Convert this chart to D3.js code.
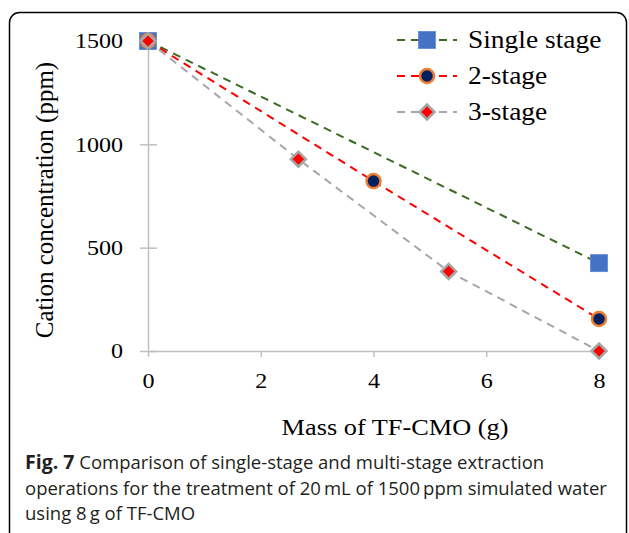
<!DOCTYPE html>
<html lang="en">
<head>
<meta charset="UTF-8" />
<title>Fig. 7 single vs multi-stage extraction</title>
<script src="https://d3js.org/d3.v7.min.js"></script>
<style>
  body { margin: 0; background: #fff; }
  svg { display: block; }
</style>
</head>
<body>
<svg width="629" height="533"></svg>
<script>
// data
const seriesNames = ["Single stage", "2-stage", "3-stage"];
const singleX = [0, 8];
const singleY = [1500, 425];
const twoX = [0, 4, 8];
const twoY = [1500, 822, 155];
const threeX = [0, 2.667, 5.333, 8];
const threeY = [1500, 928, 385, 0];
const xTicks = [0, 2, 4, 6, 8];
const yTicks = [0, 500, 1000, 1500];

const series = [
  { name: seriesNames[0], xs: singleX, ys: singleY, line: "#3a6b22", marker: "square" },
  { name: seriesNames[1], xs: twoX, ys: twoY, line: "#ff0000", marker: "circle" },
  { name: seriesNames[2], xs: threeX, ys: threeY, line: "#a6a6a6", marker: "diamond" }
];

const SERIF = '"Liberation Serif", "Times New Roman", serif';
const SANS = '"Open Sans", "Noto Sans", sans-serif';
const SX = 1.12; // the source figure is a bit stretched sideways

const svg = d3.select("svg");

// frame
svg.append("rect")
  .attr("x", 9.5).attr("y", 12.5)
  .attr("width", 617).attr("height", 600)
  .attr("rx", 10)
  .attr("fill", "none").attr("stroke", "#000").attr("stroke-width", 1.5);

const x = d3.scaleLinear().domain([0, 8]).range([148, 599]);
const y = d3.scaleLinear().domain([0, 1500]).range([351, 41]);

// y axis (cross ticks)
const gy = svg.append("g").attr("transform", `translate(${x(0)},0)`)
  .call(d3.axisLeft(y).tickValues(yTicks).tickFormat(d3.format("d"))
    .tickSize(8).tickPadding(17).tickSizeOuter(0));
gy.select(".domain").attr("stroke", "#bfbfbf").attr("stroke-width", 1.5);
gy.selectAll(".tick line").attr("stroke", "#bfbfbf").attr("stroke-width", 1.5).attr("x2", 9).attr("x1", -8);
gy.selectAll(".tick text").attr("x", -25 / SX);

// x axis
const gx = svg.append("g").attr("transform", `translate(0,${y(0)})`)
  .call(d3.axisBottom(x).tickValues(xTicks).tickFormat(d3.format("d"))
    .tickSize(6).tickPadding(16).tickSizeOuter(0));
gx.select(".domain").attr("stroke", "#bfbfbf").attr("stroke-width", 1.5);
gx.selectAll(".tick line").attr("stroke", "#bfbfbf").attr("stroke-width", 1.5);

svg.selectAll(".tick text")
  .style("font-family", SERIF).style("font-size", "21.5px").attr("fill", "#000")
  .attr("transform", `scale(${SX},1)`);

// axis titles
svg.append("text")
  .attr("transform", "translate(53,200) rotate(-90)")
  .attr("text-anchor", "middle")
  .style("font-family", SERIF).style("font-size", "25px")
  .text("Cation concentration (ppm)");
svg.append("text")
  .attr("transform", `translate(395,435) scale(${SX},1)`)
  .attr("text-anchor", "middle")
  .style("font-family", SERIF).style("font-size", "23.5px")
  .text("Mass of TF-CMO (g)");

// lines
const line = d3.line().x(d => x(d[0])).y(d => y(d[1]));
series.forEach(s => {
  svg.append("path")
    .attr("d", line(d3.zip(s.xs, s.ys)))
    .attr("fill", "none")
    .attr("stroke", s.line)
    .attr("stroke-width", 2)
    .attr("stroke-dasharray", "8,6");
});

function drawMarker(g, type, cx, cy) {
  if (type === "square") {
    g.append("rect").attr("x", cx - 8.5).attr("y", cy - 8.5).attr("width", 17).attr("height", 17)
      .attr("fill", "#4472c4").attr("stroke", "#5b87d6").attr("stroke-width", 0.8);
  } else if (type === "circle") {
    g.append("circle").attr("cx", cx).attr("cy", cy).attr("r", 7)
      .attr("fill", "#002060").attr("stroke", "#ed7d31").attr("stroke-width", 2.5);
  } else {
    g.append("path")
      .attr("d", `M${cx},${cy - 7.5}L${cx + 7.5},${cy}L${cx},${cy + 7.5}L${cx - 7.5},${cy}Z`)
      .attr("fill", "#ff0000").attr("stroke", "#a6a6a6").attr("stroke-width", 2.5);
  }
}

// markers
const mg = svg.append("g");
series.forEach(s => {
  s.xs.forEach((v, i) => drawMarker(mg, s.marker, x(v), y(s.ys[i])));
});

// legend
const legY = [40, 76, 112];
series.forEach((s, i) => {
  const lg = svg.append("g");
  lg.append("line")
    .attr("x1", 397).attr("x2", 457).attr("y1", legY[i]).attr("y2", legY[i])
    .attr("stroke", s.line).attr("stroke-width", 2).attr("stroke-dasharray", "8,6");
  drawMarker(lg, s.marker, 427, legY[i]);
  lg.append("text")
    .attr("transform", `translate(468,${legY[i] + 8}) scale(${SX},1)`)
    .style("font-family", SERIF).style("font-size", "24.5px")
    .text(s.name);
});

// caption
const cap = svg.append("text")
  .style("font-family", SANS).style("font-size", "18.5px").attr("fill", "#231f20");
cap.append("tspan").attr("x", 25).attr("y", 469)
  .attr("font-weight", "bold").style("font-size", "19.5px").text("Fig. 7");
cap.append("tspan").text(" Comparison of single-stage and multi-stage extraction");
cap.append("tspan").attr("x", 25).attr("y", 495)
  .text("operations for the treatment of 20\u2009mL of 1500\u2009ppm simulated water");
cap.append("tspan").attr("x", 25).attr("y", 520)
  .text("using 8\u2009g of TF-CMO");
</script>
</body>
</html>
